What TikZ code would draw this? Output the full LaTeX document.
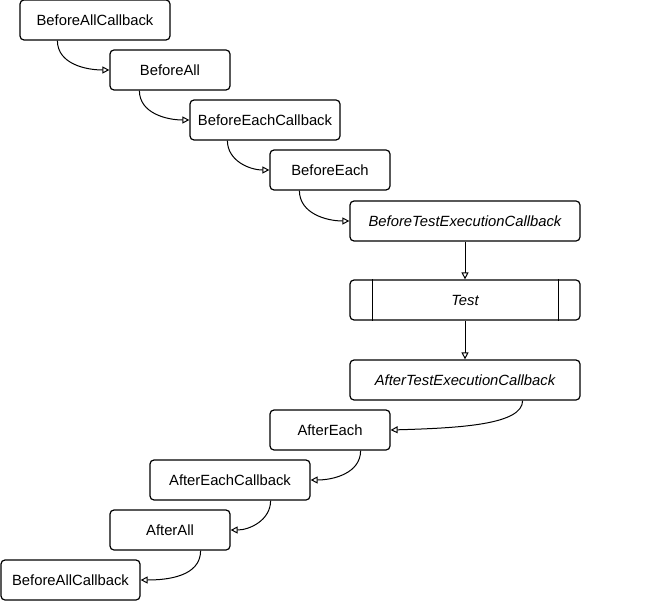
\documentclass[tikz,border=0pt]{standalone}
\usepackage{fontspec}
\setmainfont{Liberation Sans}
\usetikzlibrary{arrows.meta}
\tikzset{
  box/.style={draw, line width=1.2pt, rounded corners=4pt, inner sep=0pt,
    minimum height=40pt, font=\fontsize{14.8}{17}\selectfont, fill=white},
  flow/.style={draw, line width=1pt, -{Triangle[open,length=7pt,width=7pt]}},
}
\begin{document}
\begin{tikzpicture}[x=1pt,y=1pt]
\useasboundingbox (0,0) rectangle (671,-601);
\node[box, minimum width=150pt] (baca) at (95,-20) {BeforeAllCallback};
\node[box, minimum width=120pt] (ba) at (170,-70) {BeforeAll};
\node[box, minimum width=150pt] (becb) at (265,-120) {BeforeEachCallback};
\node[box, minimum width=120pt] (be) at (330,-170) {BeforeEach};
\node[box, minimum width=230pt] (btec) at (465,-221) {\itshape BeforeTestExecutionCallback};
\node[box, minimum width=230pt] (test) at (465,-300) {\itshape Test};
\draw[line width=1.1pt] ([xshift=23pt]test.north west) -- ([xshift=23pt]test.south west);
\draw[line width=1.1pt] ([xshift=-22pt]test.north east) -- ([xshift=-22pt]test.south east);
\node[box, minimum width=230pt] (atec) at (465,-380) {\itshape AfterTestExecutionCallback};
\node[box, minimum width=120pt] (ae) at (330,-430) {AfterEach};
\node[box, minimum width=160pt] (aecb) at (230,-480) {AfterEachCallback};
\node[box, minimum width=120pt] (aa) at (170,-530) {AfterAll};
\node[box, minimum width=139pt] (bacb) at (70.5,-580) {BeforeAllCallback};

\draw[flow] ([xshift=38pt]baca.south west) to[out=-90,in=180] (ba.west);
\draw[flow] ([xshift=30pt]ba.south west) to[out=-90,in=180] (becb.west);
\draw[flow] ([xshift=38pt]becb.south west) to[out=-90,in=180] (be.west);
\draw[flow] ([xshift=30pt]be.south west) to[out=-90,in=180] (btec.west);
\draw[flow] (btec.south) -- (test.north);
\draw[flow] (test.south) -- (atec.north);
\coordinate (s1) at ([xshift=-58pt]atec.south east);
\draw[flow] (s1) .. controls ([yshift=-24pt]s1) and ([xshift=70pt,yshift=2pt]ae.east) .. (ae.east);
\draw[flow] ([xshift=-30pt]ae.south east) to[out=-90,in=0] (aecb.east);
\draw[flow] ([xshift=-40pt]aecb.south east) to[out=-90,in=0] (aa.east);
\draw[flow] ([xshift=-30pt]aa.south east) to[out=-90,in=0] (bacb.east);
\end{tikzpicture}
\end{document}
